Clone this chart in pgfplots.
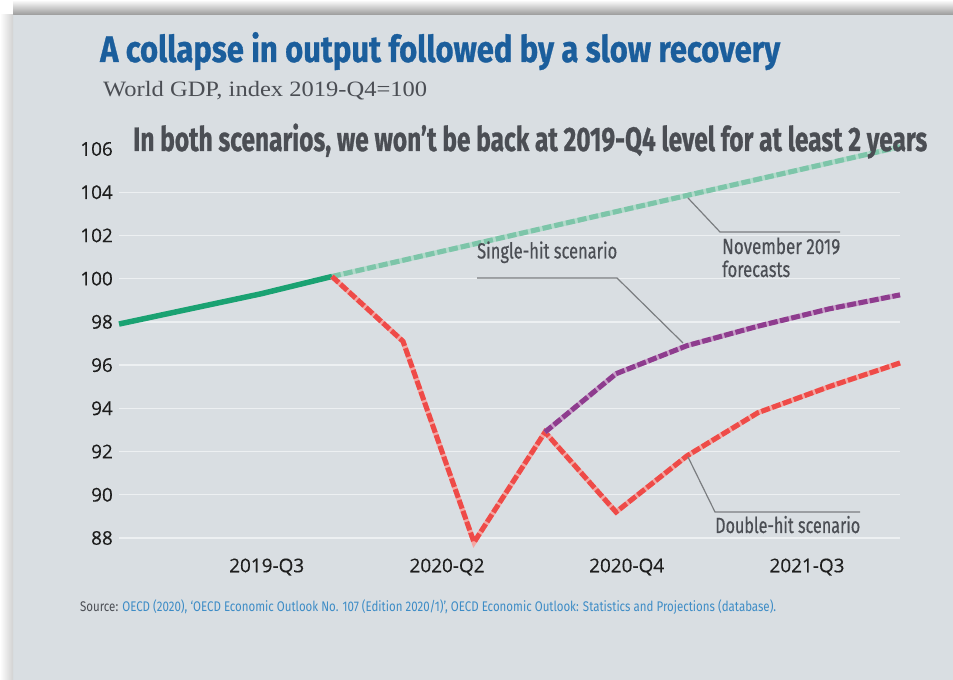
\documentclass[border=0pt]{standalone}
\usepackage{pgfplots}
\pgfplotsset{compat=1.18}
\usepackage{fontspec}
\usepackage{graphicx}
\newfontfamily\fira{Fira Sans}[BoldFeatures={FakeBold=0.9}]
\newfontfamily\firamed{Fira Sans}[FakeBold=0.5]
\newfontfamily\opens{Open Sans}[FakeBold=0.3]
\newfontfamily\lserif{Liberation Serif}
\definecolor{bgc}{HTML}{D9DEE2}
\definecolor{gridc}{HTML}{EDF0F2}
\definecolor{titlec}{HTML}{1B5E9C}
\definecolor{annc}{HTML}{4B4E54}
\definecolor{tickc}{HTML}{1E1E1E}
\definecolor{leadc}{HTML}{7A7D80}
\definecolor{srcblue}{HTML}{3D8CC6}
\definecolor{actgreen}{HTML}{1AA272}
\definecolor{fctc}{HTML}{7DC5A9}
\definecolor{fctlight}{HTML}{B2DBCB}
\definecolor{dblred}{HTML}{EE4B48}
\definecolor{dbllight}{HTML}{F4A7A3}
\definecolor{sglpur}{HTML}{8E3C8E}
\definecolor{sgllight}{HTML}{C9A0C9}
\pgfplotstableread{
x y
0 97.9
1 98.6
2 99.3
3 100.1
}\actual
\pgfplotstableread{
x y
3 100.1
4 100.85
5 101.6
6 102.35
7 103.1
8 103.85
9 104.6
10 105.35
11 106.1
}\forecast
\pgfplotstableread{
x y
3 100.1
4 97.1
5 87.8
6 92.9
7 89.2
8 91.8
9 93.8
10 95.0
11 96.1
}\double
\pgfplotstableread{
x y
6 92.9
7 95.6
8 96.9
9 97.8
10 98.6
11 99.25
}\single
\begin{document}
\begin{tikzpicture}[x=1bp,y=1bp]
\path[use as bounding box] (0,0) rectangle (953,680);
\fill[white] (0,0) rectangle (953,680);
\fill[bgc] (13,0) rectangle (953,665);
\shade[top color=white, bottom color=black!40] (13,665) rectangle (953,680);
\shade[left color=white, right color=black!18] (0,0) rectangle (13,665);
\begin{axis}[at={(119bp,142bp)}, anchor=south west, scale only axis,
  width=781bp, height=389bp, xmin=0, xmax=11, ymin=88, ymax=106, clip=false,
  axis line style={draw=none}, major tick length=0pt,
  ytick={88,90,...,104}, extra y ticks={106}, extra y tick style={grid=none},
  ymajorgrids, grid style={gridc, line width=1.3bp},
  xtick={2.08,4.62,7.15,9.69},
  xticklabels={2019-Q3,2020-Q2,2020-Q4,2021-Q3},
  ticklabel style={font=\opens\fontsize{19}{19}\selectfont, text=tickc},
  /pgf/number format/assume math mode=true,
  yticklabel style={anchor=east, inner sep=0pt, xshift=-6bp},
  xticklabel style={anchor=center, inner sep=0pt, yshift=-29bp}]
\addplot[fctlight, line width=5bp] table[x=x,y=y] {\forecast};
\addplot[fctc, line width=5bp, dash pattern=on 9bp off 3bp] table[x=x,y=y] {\forecast};
\addplot[actgreen, line width=5.5bp] table[x=x,y=y] {\actual};
\addplot[dbllight, line width=5bp] table[x=x,y=y] {\double};
\addplot[dblred, line width=5bp, dash pattern=on 9bp off 2.5bp] table[x=x,y=y] {\double};
\addplot[sgllight, line width=5bp] table[x=x,y=y] {\single};
\addplot[sglpur, line width=5bp, dash pattern=on 9bp off 2.5bp] table[x=x,y=y] {\single};
\end{axis}
% leader lines
\draw[leadc, line width=1.2bp] (477,402) -- (617,402) -- (683,337);
\draw[leadc, line width=1.2bp] (688,482) -- (720,448) -- (840,448);
\draw[leadc, line width=1.2bp] (688,223) -- (715,168) -- (860,168);
% texts
\node[anchor=base west, inner sep=0pt, text=titlec] at (100,618)
  {\resizebox{680bp}{\height}{\fira\bfseries\fontsize{37}{37}\selectfont A collapse in output followed by a slow recovery}};
\node[anchor=base west, inner sep=0pt, text=annc] at (103,583)
  {\resizebox{324bp}{\height}{\lserif\fontsize{22}{22}\selectfont World GDP, index 2019-Q4=100}};
\node[anchor=base west, inner sep=0pt, text=annc] at (133,529)
  {\resizebox{794bp}{\height}{\fira\bfseries\fontsize{34}{34}\selectfont In both scenarios, we won’t be back at 2019-Q4 level for at least 2 years}};
\node[anchor=base west, inner sep=0pt, text=annc] at (477,421.5)
  {\resizebox{140bp}{\height}{\firamed\fontsize{22}{22}\selectfont Single-hit scenario}};
\node[anchor=base west, inner sep=0pt, text=annc] at (722,426)
  {\resizebox{118bp}{\height}{\firamed\fontsize{22}{22}\selectfont November 2019}};
\node[anchor=base west, inner sep=0pt, text=annc] at (722,403)
  {\resizebox{68bp}{\height}{\firamed\fontsize{22}{22}\selectfont forecasts}};
\node[anchor=base west, inner sep=0pt, text=annc] at (715,147)
  {\resizebox{145bp}{\height}{\firamed\fontsize{22}{22}\selectfont Double-hit scenario}};
\node[anchor=base west, inner sep=0pt] at (80,68)
  {\resizebox{696bp}{\height}{\fira\fontsize{14}{14}\selectfont \textcolor{annc}{Source:} \textcolor{srcblue}{OECD (2020), ‘OECD Economic Outlook No. 107 (Edition 2020/1)’, OECD Economic Outlook: Statistics and Projections (database).}}};
\end{tikzpicture}
\end{document}
